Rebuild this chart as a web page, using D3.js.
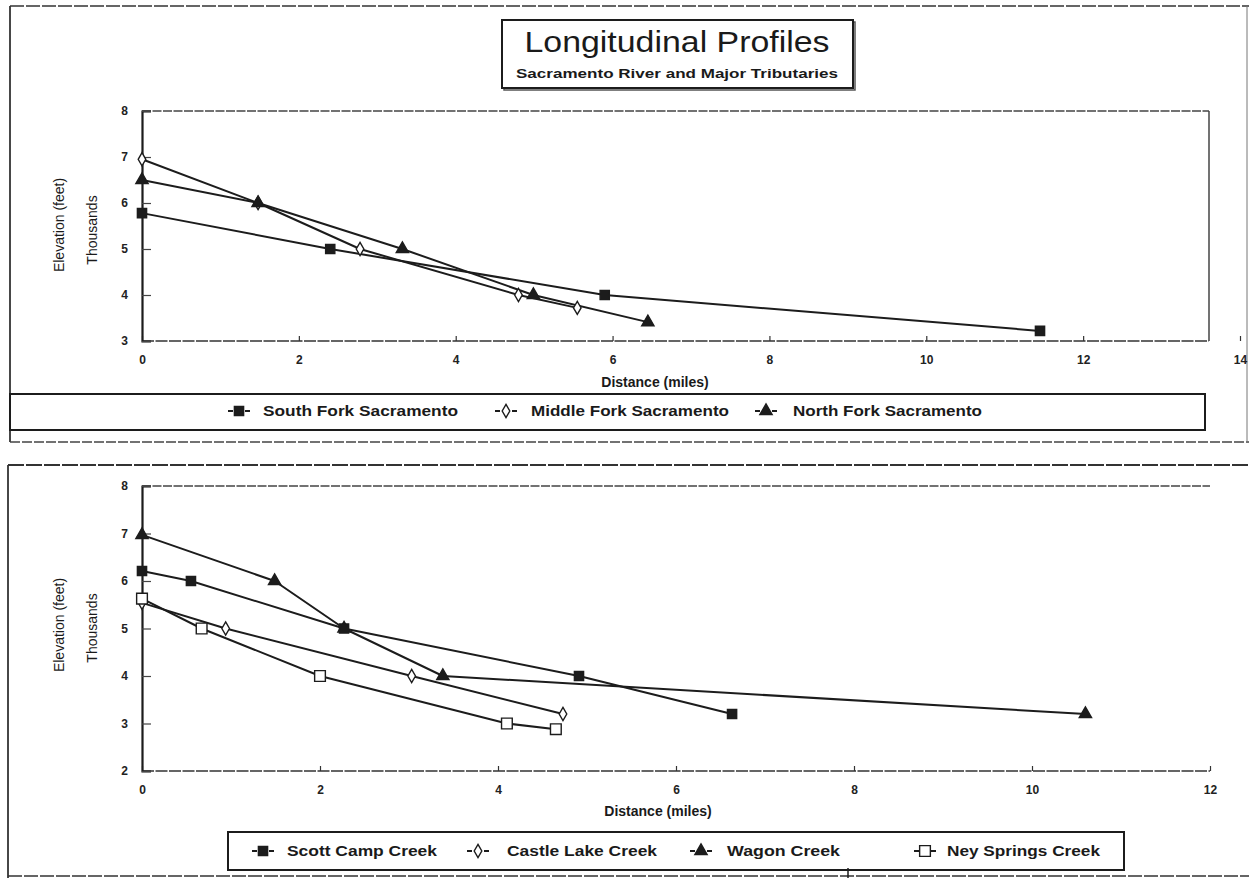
<!DOCTYPE html>
<html>
<head>
<meta charset="utf-8">
<script src="https://cdn.jsdelivr.net/npm/d3@7"></script>
<style>
  html, body { margin: 0; padding: 0; background: #fff; }
  svg { display: block; }
  text { font-family: "Liberation Sans", Arial, sans-serif; fill: #1a1a1a; }
</style>
</head>
<body>
<svg id="chart" width="1249" height="878"></svg>
<script>
// ---------- DATA ----------
const titleText = "Longitudinal Profiles";
const subtitleText = "Sacramento River and Major Tributaries";

// Top chart: Sacramento forks (distance in miles, elevation in thousand feet)
const topXTicks = [0, 2, 4, 6, 8, 10, 12, 14];
const topYTicks = [3, 4, 5, 6, 7, 8];
const southForkX = [0, 2.4, 5.9, 11.45];
const southForkY = [5.78, 5.0, 4.0, 3.22];
const middleForkX = [0, 1.48, 2.78, 4.8, 5.55];
const middleForkY = [6.95, 6.0, 5.0, 4.0, 3.72];
const northForkX = [0, 1.48, 3.32, 4.99, 6.45];
const northForkY = [6.5, 6.0, 5.0, 4.0, 3.41];
const topSeriesNames = ["South Fork Sacramento", "Middle Fork Sacramento", "North Fork Sacramento"];

// Bottom chart: creeks
const botXTicks = [0, 2, 4, 6, 8, 10, 12];
const botYTicks = [2, 3, 4, 5, 6, 7, 8];
const scottX = [0, 0.55, 2.27, 4.91, 6.63];
const scottY = [6.21, 6.0, 5.0, 4.0, 3.2];
const castleX = [0, 0.94, 3.03, 4.73];
const castleY = [5.54, 5.0, 4.0, 3.2];
const wagonX = [0, 1.49, 2.27, 3.38, 10.6];
const wagonY = [6.97, 6.0, 5.0, 4.0, 3.2];
const neyX = [0, 0.67, 2.0, 4.1, 4.65];
const neyY = [5.63, 5.0, 4.0, 3.0, 2.88];
const botSeriesNames = ["Scott Camp Creek", "Castle Lake Creek", "Wagon Creek", "Ney Springs Creek"];

const xTitle = "Distance (miles)";
const yTitle = "Elevation (feet)";
const yUnits = "Thousands";

// ---------- DRAW ----------
const svg = d3.select("#chart");
const ink = "#1c1c1c";

function zip(xs, ys) { return xs.map((x, i) => ({x, y: ys[i]})); }

const markerStyles = {
  fsq: {type: d3.symbolSquare, size: 85, fill: ink},
  odia: {type: d3.symbolDiamond, size: 50, fill: "#fff"},
  ftri: {type: d3.symbolTriangle, size: 65, fill: ink},
  osq: {type: d3.symbolSquare, size: 115, fill: "#fff"}
};

function drawMarker(g, x, y, m) {
  const st = markerStyles[m];
  g.append("path")
    .attr("d", d3.symbol().type(st.type).size(st.size)())
    .attr("transform", `translate(${x},${y})`)
    .attr("fill", st.fill).attr("stroke", ink).attr("stroke-width", 1.4);
}

function drawPanel(cfg) {
  const x = d3.scaleLinear().domain(cfg.xDomain).range(cfg.xRange);
  const y = d3.scaleLinear().domain(cfg.yDomain).range(cfg.yRange);
  const g = svg.append("g");

  const x0 = cfg.xRange[0], yb = cfg.yRange[0], yt = cfg.yRange[1];
  g.append("line").attr("x1", x0).attr("x2", cfg.frameRight).attr("y1", yt).attr("y2", yt)
    .attr("stroke", "#444").attr("stroke-width", 1.3).attr("stroke-dasharray", "9,1.5");
  g.append("line").attr("x1", x0).attr("x2", cfg.frameRight).attr("y1", yb).attr("y2", yb)
    .attr("stroke", "#333").attr("stroke-width", 1.5).attr("stroke-dasharray", "12,1.5");
  if (cfg.rightBorder) {
    g.append("line").attr("x1", cfg.frameRight).attr("x2", cfg.frameRight).attr("y1", yt).attr("y2", yb)
      .attr("stroke", "#444").attr("stroke-width", 1.5);
  }

  const xa = g.append("g").attr("transform", `translate(0,${yb})`)
    .call(d3.axisBottom(x).tickValues(cfg.xTicks).tickSize(-5).tickPadding(14).tickFormat(d3.format("d")));
  xa.select(".domain").remove();
  xa.selectAll(".tick line").attr("stroke", "#333").attr("stroke-width", 1.2);
  xa.selectAll(".tick text").attr("font-size", 12).attr("font-weight", "bold").style("fill", "#222");

  const ya = g.append("g").attr("transform", `translate(${x0},0)`)
    .call(d3.axisLeft(y).tickValues(cfg.yTicks).tickSize(-9).tickPadding(14).tickFormat(d3.format("d")));
  ya.select(".domain").attr("stroke", ink).attr("stroke-width", 2.2);
  ya.selectAll(".tick line").attr("stroke", "#444").attr("stroke-width", 1.2);
  ya.selectAll(".tick text").attr("font-size", 12).attr("font-weight", "bold").style("fill", "#222");

  g.append("text").attr("x", cfg.xTitlePos[0]).attr("y", cfg.xTitlePos[1])
    .attr("text-anchor", "middle").attr("font-size", 14).attr("font-weight", "bold").text(xTitle);
  g.append("text").attr("transform", `translate(${cfg.yTitlePos[0]},${cfg.yTitlePos[1]}) rotate(-90)`)
    .attr("text-anchor", "middle").attr("font-size", 14).text(yTitle);
  g.append("text").attr("transform", `translate(${cfg.yUnitsPos[0]},${cfg.yUnitsPos[1]}) rotate(-90)`)
    .attr("text-anchor", "middle").attr("font-size", 14).text(yUnits);

  const line = d3.line().x(d => x(d.x)).y(d => y(d.y));
  cfg.series.forEach(s => {
    g.append("path").datum(zip(s.xs, s.ys)).attr("d", line)
      .attr("fill", "none").attr("stroke", ink).attr("stroke-width", 2).attr("stroke-linejoin", "round");
  });
  cfg.series.forEach(s => {
    zip(s.xs, s.ys).forEach(d => drawMarker(g, x(d.x), y(d.y), s.marker));
  });

  const L = cfg.legend;
  g.append("rect").attr("x", L.box[0]).attr("y", L.box[1]).attr("width", L.box[2]).attr("height", L.box[3])
    .attr("fill", "none").attr("stroke", ink).attr("stroke-width", 2);
  cfg.series.forEach((s, i) => {
    const mx = L.markerX[i], cy = L.cy;
    g.append("line").attr("x1", mx - 11).attr("x2", mx - 6).attr("y1", cy).attr("y2", cy).attr("stroke", ink).attr("stroke-width", 2);
    g.append("line").attr("x1", mx + 6).attr("x2", mx + 11).attr("y1", cy).attr("y2", cy).attr("stroke", ink).attr("stroke-width", 2);
    drawMarker(g, mx, cy, s.marker);
    g.append("text").attr("x", L.textX[i]).attr("y", cy + 5).attr("font-size", 15).attr("font-weight", "bold")
      .attr("textLength", L.textW[i]).attr("lengthAdjust", "spacingAndGlyphs").text(s.name);
  });
}

// outer frames
svg.append("line").attr("x1", 10).attr("x2", 1249).attr("y1", 6).attr("y2", 6).attr("stroke", "#333").attr("stroke-width", 1.6).attr("stroke-dasharray", "14,2");
svg.append("line").attr("x1", 10).attr("x2", 10).attr("y1", 6).attr("y2", 442).attr("stroke", "#333").attr("stroke-width", 1.8);
svg.append("line").attr("x1", 10).attr("x2", 1249).attr("y1", 442).attr("y2", 442).attr("stroke", "#444").attr("stroke-width", 1.4).attr("stroke-dasharray", "10,2");
svg.append("line").attr("x1", 1247).attr("x2", 1247).attr("y1", 6).attr("y2", 442).attr("stroke", "#777").attr("stroke-width", 1);
svg.append("line").attr("x1", 8).attr("x2", 1249).attr("y1", 465).attr("y2", 465).attr("stroke", "#333").attr("stroke-width", 1.8).attr("stroke-dasharray", "16,2");
svg.append("line").attr("x1", 8).attr("x2", 8).attr("y1", 465).attr("y2", 878).attr("stroke", "#333").attr("stroke-width", 1.8);
svg.append("line").attr("x1", 8).attr("x2", 1249).attr("y1", 876).attr("y2", 876).attr("stroke", "#333").attr("stroke-width", 1.6).attr("stroke-dasharray", "14,2");
svg.append("line").attr("x1", 848).attr("x2", 848).attr("y1", 868).attr("y2", 878).attr("stroke", ink).attr("stroke-width", 1.5);

// title box
svg.append("rect").attr("x", 504).attr("y", 22).attr("width", 351).attr("height", 68).attr("fill", "none").attr("stroke", "#555").attr("stroke-width", 1.5);
svg.append("rect").attr("x", 502).attr("y", 20).attr("width", 351).attr("height", 68).attr("fill", "#fff").attr("stroke", ink).attr("stroke-width", 2);
svg.append("text").attr("x", 677).attr("y", 52).attr("text-anchor", "middle").attr("font-size", 29)
  .attr("textLength", 305).attr("lengthAdjust", "spacingAndGlyphs").text(titleText);
svg.append("text").attr("x", 677).attr("y", 78).attr("text-anchor", "middle").attr("font-size", 13).attr("font-weight", "bold")
  .attr("textLength", 322).attr("lengthAdjust", "spacingAndGlyphs").text(subtitleText);

drawPanel({
  xDomain: [0, 14], xRange: [142, 1240], yDomain: [3, 8], yRange: [341, 111],
  frameRight: 1209, rightBorder: true,
  xTicks: topXTicks, yTicks: topYTicks,
  xTitlePos: [655, 387], yTitlePos: [64, 225], yUnitsPos: [97, 230],
  series: [
    {name: topSeriesNames[0], xs: southForkX, ys: southForkY, marker: "fsq"},
    {name: topSeriesNames[1], xs: middleForkX, ys: middleForkY, marker: "odia"},
    {name: topSeriesNames[2], xs: northForkX, ys: northForkY, marker: "ftri"}
  ],
  legend: {box: [10, 394, 1195, 36], cy: 411, markerX: [239, 506, 766], textX: [263, 531, 793], textW: [195, 198, 189]}
});

drawPanel({
  xDomain: [0, 12], xRange: [142, 1210], yDomain: [2, 8], yRange: [771, 486],
  frameRight: 1210, rightBorder: false,
  xTicks: botXTicks, yTicks: botYTicks,
  xTitlePos: [658, 816], yTitlePos: [64, 625], yUnitsPos: [97, 628],
  series: [
    {name: botSeriesNames[0], xs: scottX, ys: scottY, marker: "fsq"},
    {name: botSeriesNames[1], xs: castleX, ys: castleY, marker: "odia"},
    {name: botSeriesNames[2], xs: wagonX, ys: wagonY, marker: "ftri"},
    {name: botSeriesNames[3], xs: neyX, ys: neyY, marker: "osq"}
  ],
  legend: {box: [228, 832, 896, 38], cy: 851, markerX: [263, 478, 701, 925], textX: [287, 507, 727, 947], textW: [150, 150, 113, 153]}
});
</script>
</body>
</html>
